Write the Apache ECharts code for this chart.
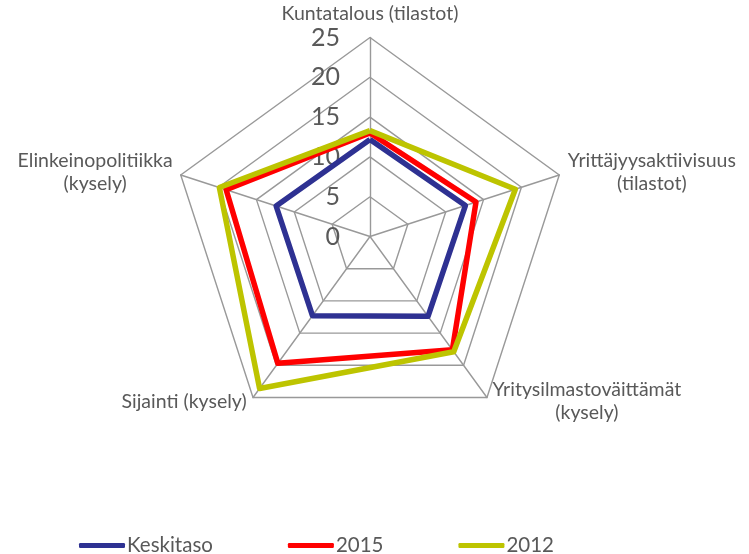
<!DOCTYPE html>
<html>
<head>
<meta charset="utf-8">
<script src="https://cdn.jsdelivr.net/npm/echarts@6/dist/echarts.min.js"></script>
<style>
html,body{margin:0;padding:0;background:#fff;}
#c{width:749px;height:554px;}
</style>
</head>
<body>
<div id="c"></div>
<script>
// Categories in reference order (clockwise from top)
var categories = [
  'Kuntatalous (tilastot)',
  'Yrittäjyysaktiivisuus\n(tilastot)',
  'Yritysilmastoväittämät\n(kysely)',
  'Sijainti (kysely)',
  'Elinkeinopolitiikka\n(kysely)'
];
var seriesNames = ['Keskitaso', '2015', '2012'];
var keskitaso = [12.2, 12.6, 12.4, 12.3, 12.4];
var y2015     = [13.0, 14.0, 17.6, 19.7, 19.0];
var y2012     = [13.3, 19.2, 17.9, 23.6, 19.9];
var tickLabels = ['0', '5', '10', '15', '20', '25'];
var axisMax = 25;

var colors = ['#2E3192', '#FF0000', '#BDC400'];
var font = 'Lato, "Open Sans", sans-serif';
var txt = '#595959';

// per-indicator name placement (gap, align tweak via padding)
var nameStyles = [
  {gap: 22, pad: [0, 0, 0, 0]},
  {gap: 8, pad: [0, 0, 0, 170]},
  {gap: 5, pad: [0, 0, 0, 194]},
  {gap: 5, pad: [0, 132, 0, 0]},
  {gap: 8, pad: [0, 156, 0, 0]}
];

// ECharts radar places indicators counter-clockwise; reorder so layout is clockwise
var order = [0, 4, 3, 2, 1];
function reorder(arr) { return order.map(function (i) { return arr[i]; }); }

var indicator = order.map(function (i, k) {
  var ns = nameStyles[i];
  var o = {
    name: categories[i],
    min: 0,
    max: axisMax,
    nameGap: ns.gap,
    nameTextStyle: {
      align: 'center',
      verticalAlign: 'middle',
      padding: ns.pad,
      lineHeight: 23
    }
  };
  if (k !== 0) o.axisLabel = {show: false};
  return o;
});

var chart = echarts.init(document.getElementById('c'), null, {renderer: 'canvas'});
chart.setOption({
  animation: false,
  color: colors,
  legend: {
    data: seriesNames,
    left: 74,
    top: 530,
    itemWidth: 46,
    itemHeight: 5,
    itemGap: 75,
    icon: 'roundRect',
    textStyle: {fontFamily: font, fontSize: 20.5, color: txt, padding: [0, 0, 0, -3]}
  },
  radar: {
    center: [370, 236.5],
    radius: 199,
    shape: 'polygon',
    splitNumber: 5,
    startAngle: 90,
    axisNameGap: 8,
    axisName: {
      show: true,
      color: txt,
      fontFamily: font,
      fontSize: 19.5
    },
    axisLine: {show: true, lineStyle: {color: '#999999', width: 1.4}},
    splitLine: {show: true, lineStyle: {color: '#999999', width: 1.4}},
    splitArea: {show: false},
    axisTick: {show: false},
    axisLabel: {
      show: true,
      fontFamily: font,
      fontSize: 25,
      color: txt,
      margin: 30,
      formatter: function (v) {
        var idx = Math.round(v / 5);
        return tickLabels[idx] !== undefined ? tickLabels[idx] : '';
      }
    },
    indicator: indicator
  },
  series: [{
    type: 'radar',
    symbol: 'none',
    data: [
      {name: seriesNames[0], value: reorder(keskitaso), lineStyle: {width: 5.5, color: colors[0]}, itemStyle: {color: colors[0]}},
      {name: seriesNames[1], value: reorder(y2015), lineStyle: {width: 5.5, color: colors[1]}, itemStyle: {color: colors[1]}},
      {name: seriesNames[2], value: reorder(y2012), lineStyle: {width: 5.5, color: colors[2]}, itemStyle: {color: colors[2]}}
    ]
  }]
});
</script>
</body>
</html>
